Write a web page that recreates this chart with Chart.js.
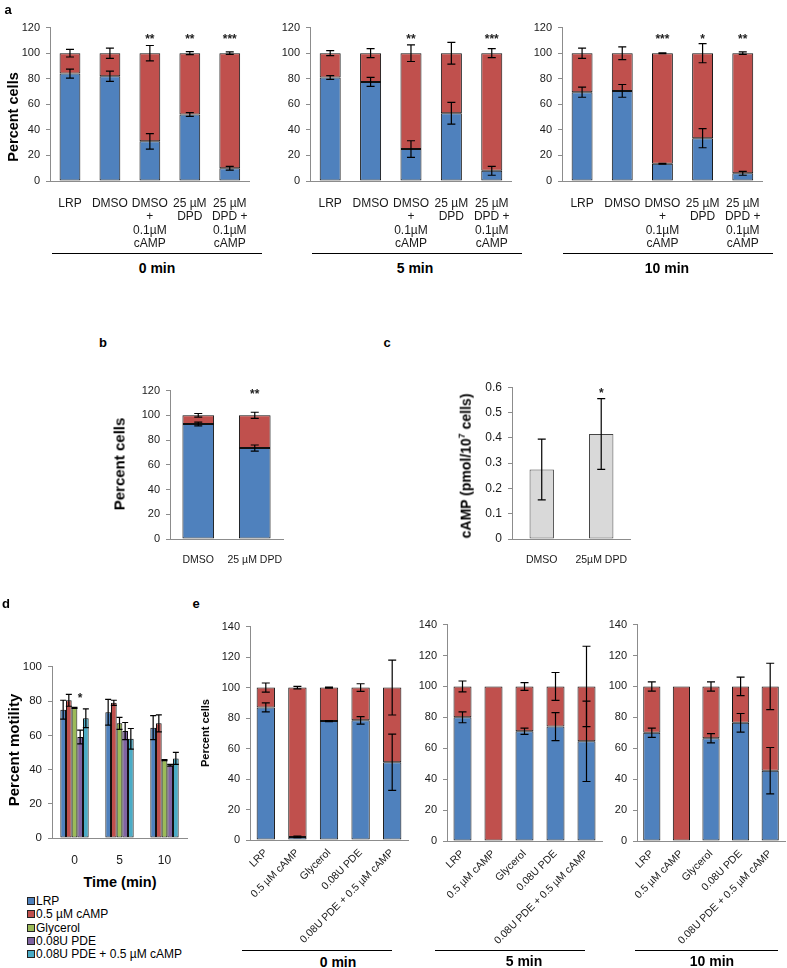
<!DOCTYPE html>
<html>
<head>
<meta charset="utf-8">
<script src="https://cdn.jsdelivr.net/npm/chart.js@4.4.0/dist/chart.umd.min.js"></script>
<style>
body{margin:0;background:#fff;width:787px;height:968px;position:relative;overflow:hidden;font-family:"Liberation Sans",Arial,sans-serif;color:#000}
canvas{position:absolute}
.t{position:absolute;white-space:nowrap;transform:translate(-50%,-50%)}
.v{transform:translate(-50%,-50%) rotate(-90deg)}
.rule{position:absolute;height:0;border-top:1.5px solid #000}
.leg{position:absolute;left:27px;font-size:12px;line-height:13.3px}
.leg span{display:inline-block;width:6px;height:6px;border:1px solid #222;margin-right:1px;vertical-align:0}
</style>
</head>
<body>
<script>
// panel a - stacked percent cells at 0, 5, 10 min
var aLabels = [['LRP'], ['DMSO'], ['DMSO', '+', '0.1µM', 'cAMP'], ['25 µM', 'DPD'], ['25 µM', 'DPD +', '0.1µM', 'cAMP']];
var aBlue0 = [84, 82, 31, 52, 10];
var aRed0 = [16, 18, 69, 48, 90];
var aBlueErr0 = [3.5, 4, 6, 1.5, 1.5];
var aRedErr0 = [3, 4, 6, 1.2, 1];
var aStars0 = ['', '', '**', '**', '***'];
var aBlue5 = [81, 77.5, 25, 53, 8];
var aRed5 = [19, 22.5, 75, 47, 92];
var aBlueErr5 = [1.5, 3.5, 6.5, 8.5, 3.5];
var aRedErr5 = [2, 3.5, 6.5, 8.5, 3.5];
var aStars5 = ['', '', '**', '', '***'];
var aBlue10 = [69.5, 70.5, 13.5, 33.5, 6];
var aRed10 = [30.5, 29.5, 86.5, 66.5, 94];
var aBlueErr10 = [4, 5, 0.3, 7.5, 1.5];
var aRedErr10 = [4, 5, 0.3, 7.5, 1];
var aStars10 = ['', '', '***', '*', '**'];

// panel b
var bLabels = ['DMSO', '25 µM DPD'];
var bBlue = [93, 73.5];
var bRed = [7, 26.5];
var bBlueErr = [1.5, 2.5];
var bRedErr = [1.5, 2.5];
var bStars = ['', '**'];

// panel c
var cLabels = ['DMSO', '25µM DPD'];
var cValues = [0.275, 0.415];
var cErr = [0.12, 0.14];
var cStars = ['', '*'];

// panel d - motility
var dLabels = ['0', '5', '10'];
var dNames = ['LRP', '0.5 µM cAMP', 'Glycerol', '0.08U PDE', '0.08U PDE + 0.5 µM cAMP'];
var dLRP = [75, 73.5, 64.5];
var dLRPErr = [5.5, 7.5, 7];
var dCamp = [80.5, 79, 67];
var dCampErr = [3.5, 1.5, 5];
var dGly = [76, 67, 45.5];
var dGlyErr = [0.3, 3.5, 0.3];
var dPde = [59, 62.5, 42.5];
var dPdeErr = [4, 5, 0.5];
var dPdeCamp = [70, 58, 46.5];
var dPdeCampErr = [5.5, 6, 3.5];
var dStars = ['*', '', ''];

// panel e
var eLabels = ['LRP', '0.5 µM cAMP', 'Glycerol', '0.08U PDE', '0.08U PDE + 0.5 µM cAMP'];
var eBlue0 = [87, 2, 78, 78.5, 51];
var eRed0 = [13, 98, 22, 21.5, 49];
var eBlueErr0 = [3, 0.5, 0.3, 2.5, 18.5];
var eRedErr0 = [3, 0.8, 0.3, 2.5, 18];
var eBlue5 = [80, 0, 71, 74, 64.5];
var eRed5 = [20, 100, 29, 26, 35.5];
var eBlueErr5 = [3.5, 0, 2, 9, 26];
var eRedErr5 = [3.5, 0, 2.5, 9, 26];
var eBlue10 = [70, 0, 66.5, 76.5, 45.5];
var eRed10 = [30, 100, 33.5, 23.5, 54.5];
var eBlueErr10 = [3, 0, 3, 6, 15];
var eRedErr10 = [3, 0, 3, 6, 15];

var BLUE = '#4f81bd', RED = '#c0504d', GREEN = '#9bbb59', PURPLE = '#8064a2', CYAN = '#4bacc6', GREY = '#d9d9d9';
var AX = '#8c8c8c', EDGE = '#111';
var FONT = '"Liberation Sans", Arial, sans-serif';

Chart.defaults.font.family = FONT;
Chart.defaults.font.size = 11;
Chart.defaults.color = '#1a1a1a';
Chart.defaults.animation = false;
Chart.defaults.plugins.legend.display = false;
Chart.defaults.plugins.tooltip.enabled = false;

// error bars and significance stars
var marks = {
  id: 'marks',
  afterDatasetsDraw: function(chart, args, opts) {
    var ctx = chart.ctx, y = chart.scales.y;
    ctx.save();
    chart.data.datasets.forEach(function(ds, i) {
      var meta = chart.getDatasetMeta(i);
      meta.data.forEach(function(bar, j) {
        var e = ds.errors ? ds.errors[j] : 0;
        if (e) {
          var v = y.getValueForPixel(bar.y);
          var t = y.getPixelForValue(v + e), b = y.getPixelForValue(v - e);
          var cap = opts.cap || 4;
          ctx.strokeStyle = '#000';
          ctx.lineWidth = 1.2;
          ctx.beginPath();
          ctx.moveTo(bar.x, t); ctx.lineTo(bar.x, b);
          ctx.moveTo(bar.x - cap, t); ctx.lineTo(bar.x + cap, t);
          ctx.moveTo(bar.x - cap, b); ctx.lineTo(bar.x + cap, b);
          ctx.stroke();
        }
        var s = ds.stars ? ds.stars[j] : '';
        if (s) {
          ctx.fillStyle = '#222';
          ctx.font = 'bold 12px ' + FONT;
          ctx.textAlign = 'center';
          ctx.textBaseline = 'top';
          ctx.fillText(s, bar.x, y.getPixelForValue(opts.starY) - 3);
        }
      });
    });
    ctx.restore();
  }
};

function makeChart(area, yW, xH, padT, padR, config) {
  var c = document.createElement('canvas');
  c.width = area.r - area.l + yW + padR;
  c.height = area.b - area.t + padT + xH;
  c.style.left = (area.l - yW) + 'px';
  c.style.top = (area.t - padT) + 'px';
  document.body.appendChild(c);
  config.options.responsive = false;
  config.options.layout = {padding: {left: 0, top: padT, right: padR, bottom: 0}};
  config.options.scales.y.afterFit = function(s) { s.width = yW; };
  config.options.scales.x.afterFit = function(s) { s.height = xH; };
  config.plugins = [marks];
  return new Chart(c, config);
}

function yScale(max, step, size, stacked) {
  return {
    stacked: stacked, min: 0, max: max,
    ticks: {stepSize: step, padding: 6, font: {size: size}},
    grid: {drawOnChartArea: false, drawTicks: true, tickLength: 4, color: AX},
    border: {color: AX}
  };
}

function xScale(size, padding, rot, stacked) {
  return {
    stacked: stacked,
    grid: {display: false, drawTicks: false},
    border: {color: AX},
    ticks: {autoSkip: false, minRotation: rot, maxRotation: rot, padding: padding, font: {size: size, lineHeight: 1.11}}
  };
}

function stacked(area, labels, blue, red, blueErr, redErr, stars, o) {
  return makeChart(area, 45, o.xH, 12, 4, {
    type: 'bar',
    data: {
      labels: labels,
      datasets: [
        {data: blue, backgroundColor: BLUE, errors: blueErr},
        {data: red, backgroundColor: RED, errors: redErr, stars: stars}
      ]
    },
    options: {
      datasets: {bar: {borderColor: EDGE, borderWidth: 1, borderSkipped: false, barPercentage: o.bar, categoryPercentage: 1}},
      plugins: {marks: {cap: 4, starY: o.starY}},
      scales: {x: xScale(o.xSize, o.xPad, o.rot, true), y: yScale(o.max, 20, 11, true)}
    }
  });
}

// panel a
var aOpt = {xH: 70, bar: 0.52, starY: 113, xSize: 12, xPad: 16, rot: 0, max: 120};
stacked({l: 50, r: 260, t: 27, b: 181}, aLabels, aBlue0, aRed0, aBlueErr0, aRedErr0, aStars0, aOpt);
stacked({l: 310, r: 522, t: 27, b: 181}, aLabels, aBlue5, aRed5, aBlueErr5, aRedErr5, aStars5, aOpt);
stacked({l: 562, r: 773, t: 27, b: 181}, aLabels, aBlue10, aRed10, aBlueErr10, aRedErr10, aStars10, aOpt);

// panel b
stacked({l: 170, r: 294, t: 390, b: 539}, bLabels, bBlue, bRed, bBlueErr, bRedErr, bStars,
  {xH: 30, bar: 0.56, starY: 119, xSize: 10.5, xPad: 15, rot: 0, max: 120});

// panel c
makeChart({l: 512, r: 639, t: 386, b: 539}, 45, 30, 12, 4, {
  type: 'bar',
  data: {labels: cLabels, datasets: [{data: cValues, backgroundColor: GREY, errors: cErr, stars: cStars}]},
  options: {
    datasets: {bar: {borderColor: '#444', borderWidth: 1, borderSkipped: false, barPercentage: 0.41, categoryPercentage: 1}},
    plugins: {marks: {cap: 4, starY: 0.585}},
    scales: {x: xScale(10.5, 15, 0, false), y: yScale(0.6, 0.1, 12, false)}
  }
});

// panel d
var dColors = [BLUE, RED, GREEN, PURPLE, CYAN];
var dValues = [dLRP, dCamp, dGly, dPde, dPdeCamp];
var dErrors = [dLRPErr, dCampErr, dGlyErr, dPdeErr, dPdeCampErr];
makeChart({l: 52, r: 187, t: 666, b: 838}, 45, 30, 12, 4, {
  type: 'bar',
  data: {
    labels: dLabels,
    datasets: dNames.map(function(n, i) {
      return {label: n, data: dValues[i], backgroundColor: dColors[i], errors: dErrors[i], stars: i === 3 ? dStars : null};
    })
  },
  options: {
    datasets: {bar: {borderColor: EDGE, borderWidth: 1, borderSkipped: false, barPercentage: 1, categoryPercentage: 0.63}},
    plugins: {marks: {cap: 3, starY: 83}},
    scales: {x: xScale(12, 16, 0, false), y: yScale(100, 20, 11.5, false)}
  }
});

// panel e
var eOpt = {xH: 110, bar: 0.58, starY: 150, xSize: 10.5, xPad: 7, rot: 45, max: 140};
stacked({l: 250, r: 408, t: 626, b: 840}, eLabels, eBlue0, eRed0, eBlueErr0, eRedErr0, null, eOpt);
stacked({l: 447, r: 602, t: 624, b: 841}, eLabels, eBlue5, eRed5, eBlueErr5, eRedErr5, null, eOpt);
stacked({l: 637, r: 785, t: 624, b: 841}, eLabels, eBlue10, eRed10, eBlueErr10, eRedErr10, null, eOpt);

// text and rules
function text(s, x, y, css, vertical) {
  var d = document.createElement('div');
  d.className = vertical ? 't v' : 't';
  d.innerHTML = s;
  d.style.left = x + 'px';
  d.style.top = y + 'px';
  d.style.cssText += css;
  document.body.appendChild(d);
}
function rule(x1, x2, y) {
  var d = document.createElement('div');
  d.className = 'rule';
  d.style.left = x1 + 'px';
  d.style.width = (x2 - x1) + 'px';
  d.style.top = y + 'px';
  document.body.appendChild(d);
}

var bold = 'font-weight:bold;font-size:14px;';
text('a', 8, 9, bold + 'font-size:13px;');
text('b', 103, 342, bold + 'font-size:13px;');
text('c', 387, 342, bold + 'font-size:13px;');
text('d', 6, 603, bold + 'font-size:13px;');
text('e', 196, 603, bold + 'font-size:13px;');

text('Percent cells', 13, 117, bold + 'font-size:14.5px;', true);
text('Percent cells', 119, 464, bold + 'font-size:15px;', true);
text('cAMP (pmol/10<sup style="font-size:9px">7</sup> cells)', 465, 466, bold + 'font-size:14px;', true);
text('Percent motility', 13, 750, bold + 'font-size:15px;', true);
text('Time (min)', 120, 882, bold + 'font-size:14.5px;');
text('Percent cells', 205, 733, bold + 'font-size:11px;', true);

rule(52, 262, 253); text('0 min', 157, 268, bold);
rule(312, 522, 253); text('5 min', 415, 268, bold);
rule(563, 773, 253); text('10 min', 667, 268, bold);
rule(242, 392, 950); text('0 min', 338, 962, bold);
rule(435, 585, 950); text('5 min', 524, 961, bold);
rule(635, 778, 950); text('10 min', 712, 961, bold);

var leg = document.createElement('div');
leg.className = 'leg';
leg.style.top = '895px';
leg.innerHTML = dNames.map(function(n, i) {
  return '<div><span style="background:' + dColors[i] + '"></span>' + n + '</div>';
}).join('');
document.body.appendChild(leg);
</script>
</body>
</html>
